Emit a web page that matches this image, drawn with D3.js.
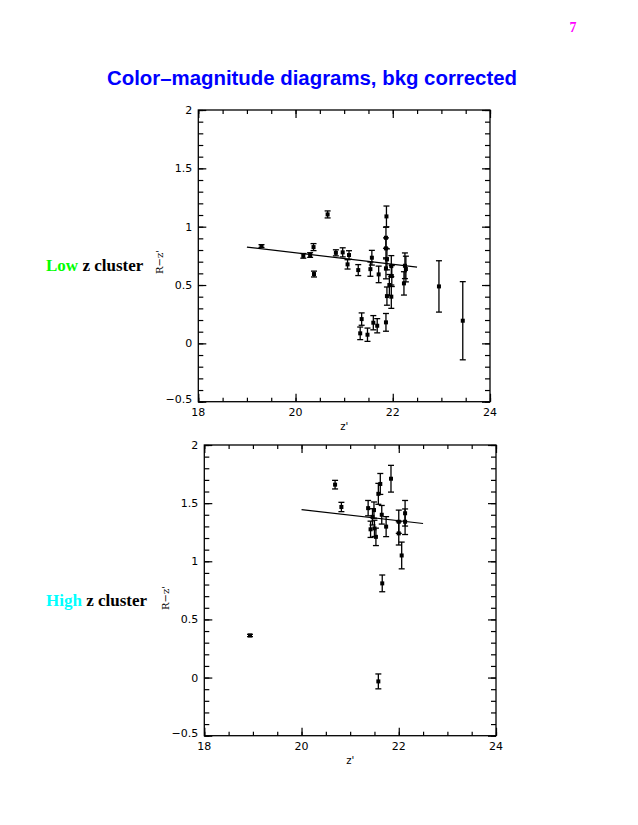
<!DOCTYPE html>
<html><head><meta charset="utf-8">
<script src="https://cdn.jsdelivr.net/npm/d3@7"></script>
<style>body{margin:0;background:#fff}svg{display:block}</style>
</head><body>
<svg id="c" width="638" height="825"></svg>
<script>
// Low z cluster data: z', R-z', error
const lowZ   = [19.30,20.16,20.30,20.37,20.38,20.66,20.83,20.97,21.10,21.07,21.29,21.36,21.33,21.48,21.57,21.54,21.71,21.60,21.68,21.86,21.87,21.86,21.86,21.88,21.86,21.88,21.97,21.98,21.93,21.97,22.25,22.27,22.23,22.95,23.44];
const lowC   = [0.834,0.750,0.757,0.825,0.594,1.105,0.776,0.780,0.757,0.677,0.628,0.208,0.086,0.074,0.734,0.636,0.591,0.177,0.151,0.180,1.088,0.905,0.814,0.720,0.643,0.405,0.662,0.577,0.500,0.400,0.665,0.637,0.514,0.488,0.194];
const lowErr = [0.012,0.020,0.020,0.030,0.025,0.030,0.026,0.039,0.037,0.040,0.047,0.053,0.054,0.057,0.063,0.061,0.071,0.061,0.061,0.076,0.089,0.090,0.090,0.090,0.090,0.078,0.090,0.090,0.090,0.100,0.110,0.110,0.100,0.220,0.335];
const lowFitZ = [19.0, 22.5];
const lowFitC = [0.825, 0.654];

// High z cluster data
const highZ   = [18.94,20.69,20.82,21.37,21.49,21.46,21.42,21.50,21.53,21.58,21.62,21.65,21.74,21.84,22.00,22.00,22.13,22.13,22.06,21.66,21.58];
const highC   = [0.362,1.659,1.467,1.457,1.440,1.382,1.275,1.283,1.210,1.580,1.665,1.400,1.298,1.710,1.340,1.240,1.413,1.340,1.050,0.810,-0.033];
const highErr = [0.010,0.037,0.040,0.066,0.070,0.070,0.070,0.070,0.075,0.090,0.090,0.080,0.086,0.115,0.100,0.100,0.110,0.110,0.115,0.072,0.064];
const highFitZ = [20.0, 22.5];
const highFitC = [1.445, 1.325];

const xDomain = [18, 24];
const yDomain = [-0.5, 2];
const xTickLabels = [18, 20, 22, 24];
const yTickLabels = [-0.5, 0, 0.5, 1, 1.5, 2];

const svg = d3.select("#c");

svg.append("text").attr("x", 573).attr("y", 32).attr("text-anchor","middle")
  .attr("font-family","Liberation Serif").attr("font-weight","bold").attr("font-size",14)
  .attr("fill","#ff00ff").text("7");

svg.append("text").attr("x", 312).attr("y", 85).attr("text-anchor","middle")
  .attr("font-family","Liberation Sans").attr("font-weight","bold").attr("font-size",20)
  .attr("textLength",410).attr("lengthAdjust","spacingAndGlyphs")
  .attr("fill","#0000ff").text("Color\u2013magnitude diagrams, bkg corrected");

function panel(opt){
  const x = d3.scaleLinear().domain(xDomain).range([opt.x0, opt.x1]);
  const y = d3.scaleLinear().domain(yDomain).range([opt.y1, opt.y0]);
  const g = svg.append("g");
  const xMinor = d3.range(18, 24.001, 0.5);
  const yMinor = d3.range(-0.5, 2.001, 0.1);
  const mk = (axisFn, scale, vals, len, tr) => {
    const a = g.append("g").attr("transform", tr)
      .call(axisFn(scale).tickValues(vals).tickSize(len).tickFormat(""));
    a.select(".domain").remove();
    a.selectAll("line").attr("stroke","#000").attr("stroke-width",1.2);
  };
  mk(d3.axisBottom, x, xMinor, -4, `translate(0,${opt.y1})`);
  mk(d3.axisTop, x, xMinor, -4, `translate(0,${opt.y0})`);
  mk(d3.axisLeft, y, yMinor, -5, `translate(${opt.x0},0)`);
  mk(d3.axisRight, y, yMinor, -5, `translate(${opt.x1},0)`);
  mk(d3.axisBottom, x, xTickLabels, -8, `translate(0,${opt.y1})`);
  mk(d3.axisTop, x, xTickLabels, -8, `translate(0,${opt.y0})`);
  mk(d3.axisLeft, y, yTickLabels, -8, `translate(${opt.x0},0)`);
  mk(d3.axisRight, y, yTickLabels, -8, `translate(${opt.x1},0)`);
  g.append("rect").attr("x",opt.x0).attr("y",opt.y0).attr("width",opt.x1-opt.x0).attr("height",opt.y1-opt.y0)
    .attr("fill","none").attr("stroke","#000").attr("stroke-width",1.3);
  // tick labels
  g.selectAll(".xl").data(xTickLabels).enter().append("text")
    .attr("x", d=>x(d)).attr("y", opt.y1+14).attr("text-anchor","middle")
    .attr("font-family","DejaVu Sans").attr("font-size",11).text(d=>d);
  g.selectAll(".yl").data(yTickLabels).enter().append("text")
    .attr("x", opt.x0-6).attr("y", d=>y(d)+4 - (d===-0.5?3:0)).attr("text-anchor","end")
    .attr("font-family","DejaVu Sans").attr("font-size",11).text(d=> d<0 ? "\u22120.5" : d);
  // axis titles
  g.append("text").attr("x",(opt.x0+opt.x1)/2).attr("y",opt.y1+28).attr("text-anchor","middle")
    .attr("font-family","DejaVu Sans").attr("font-size",10).text("z'");
  g.append("text").attr("transform",`translate(${opt.ylx},${opt.yly}) rotate(-90)`)
    .attr("text-anchor","middle").attr("font-family","DejaVu Serif").attr("font-size",10).text("R\u2212z'");
  // side label
  const t = g.append("text").attr("x",46).attr("y",opt.sly)
    .attr("font-family","Liberation Serif").attr("font-weight","bold").attr("font-size",17);
  t.append("tspan").attr("fill",opt.color).text(opt.label);
  t.append("tspan").attr("fill","#000").text(" z cluster");
  // fit line
  g.append("line").attr("x1",x(opt.fz[0])).attr("x2",x(opt.fz[1]))
    .attr("y1",y(opt.fc[0])).attr("y2",y(opt.fc[1])).attr("stroke","#000").attr("stroke-width",1.2);
  // points with error bars
  const data = opt.zs.map((z,i)=>({z, c:opt.cs[i], e:opt.es[i]}));
  const pts = g.selectAll(".p").data(data).enter().append("g");
  pts.append("line").attr("x1",d=>x(d.z)).attr("x2",d=>x(d.z))
    .attr("y1",d=>y(d.c-d.e)).attr("y2",d=>y(d.c+d.e)).attr("stroke","#000").attr("stroke-width",1.3);
  pts.append("line").attr("x1",d=>x(d.z)-3).attr("x2",d=>x(d.z)+3)
    .attr("y1",d=>y(d.c-d.e)).attr("y2",d=>y(d.c-d.e)).attr("stroke","#000").attr("stroke-width",1.3);
  pts.append("line").attr("x1",d=>x(d.z)-3).attr("x2",d=>x(d.z)+3)
    .attr("y1",d=>y(d.c+d.e)).attr("y2",d=>y(d.c+d.e)).attr("stroke","#000").attr("stroke-width",1.3);
  pts.append("rect").attr("x",d=>x(d.z)-2).attr("y",d=>y(d.c)-2).attr("width",4).attr("height",4).attr("fill","#000");
}

panel({x0:198.3, x1:490, y0:110, y1:401.7, zs:lowZ, cs:lowC, es:lowErr, fz:lowFitZ, fc:lowFitC,
       label:"Low", color:"#00ff00", ylx:163, yly:262, sly:271});
panel({x0:204.3, x1:496, y0:445, y1:735.7, zs:highZ, cs:highC, es:highErr, fz:highFitZ, fc:highFitC,
       label:"High", color:"#00ffff", ylx:169, yly:598, sly:606});
</script>
</body></html>
